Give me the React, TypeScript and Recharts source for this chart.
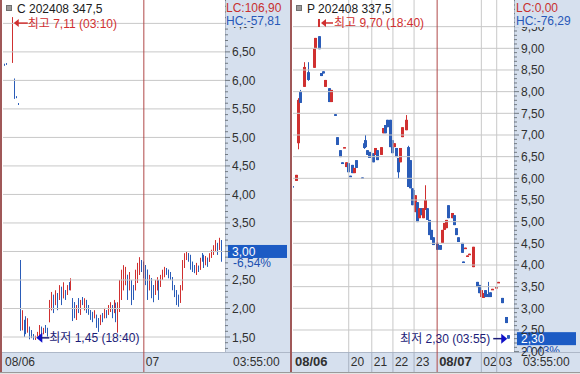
import React from 'react';
import { ComposedChart, Bar, XAxis, YAxis, ReferenceLine, ReferenceDot } from 'recharts';

const FONT = '"Liberation Sans", Arial, "Noto Sans CJK KR", sans-serif';
const RED = '#D03030';
const BLUE = '#2A5CB8';
const GRID = '#C8C8C8';
const DIV = '#B04848';
const AXBG = '#D6E0EE';
const NAVY = '#1C1C78';

// ---------- Left panel: C 202408 347,5 ----------
const leftT = [0, 1, 2, 5, 6, 7, 8, 9, 10, 11, 12, 13, 14, 15, 16, 17, 18, 19, 20, 21, 22, 23, 24, 25, 26, 27, 28, 29, 30, 31, 32, 33, 34, 35, 36, 37, 38, 39, 40, 41, 42, 43, 44, 45, 46, 47, 48, 49, 50, 51, 52, 53, 54, 55, 56, 57, 58, 59, 60, 61, 62, 63, 64, 65, 66, 67, 68, 69, 70, 71, 72, 73, 74, 75, 76, 77, 78, 79, 80, 81, 82, 83, 84, 85, 86, 87, 88, 89, 90, 91, 92, 93, 94, 95, 96, 97, 98, 99, 100, 101, 102, 103, 104, 105, 106, 107, 108, 109, 110, 111, 112];
const leftO = [6.06, 6.29, 6.30, 6.31, 6.03, 5.72, 5.60, 2.85, 1.62, 1.80, 1.86, 1.58, 1.68, 1.62, 1.55, 1.45, 1.50, 1.50, 1.68, 1.55, 1.71, 1.66, 1.76, 1.97, 2.24, 2.06, 2.27, 2.15, 2.38, 2.18, 2.32, 2.24, 2.46, 2.32, 2.18, 2.11, 1.80, 2.18, 1.89, 2.20, 1.97, 2.15, 2.06, 1.97, 1.94, 1.83, 1.89, 1.83, 1.71, 1.92, 1.83, 1.97, 1.89, 1.94, 2.06, 1.92, 2.10, 1.58, 1.94, 2.15, 2.32, 2.41, 2.59, 2.32, 2.50, 2.41, 2.32, 2.45, 2.59, 2.85, 2.82, 2.76, 2.68, 2.32, 2.53, 2.41, 2.24, 2.32, 2.50, 2.38, 2.50, 2.55, 2.71, 2.68, 2.64, 2.55, 2.41, 2.32, 2.24, 2.10, 2.32, 2.71, 2.85, 2.97, 2.94, 2.82, 2.76, 2.59, 2.75, 2.68, 2.97, 2.94, 2.76, 2.89, 2.82, 2.89, 2.94, 2.99, 3.15, 3.03, 3.20];
const leftH = [6.06, 6.29, 6.30, 7.11, 6.03, 5.72, 5.60, 2.85, 1.97, 1.80, 1.86, 1.83, 1.68, 1.62, 1.55, 1.52, 1.59, 1.71, 1.68, 1.66, 1.71, 1.66, 2.15, 2.29, 2.24, 2.32, 2.27, 2.41, 2.38, 2.46, 2.32, 2.41, 2.46, 2.53, 2.18, 2.11, 2.06, 2.18, 2.15, 2.20, 2.18, 2.15, 2.06, 1.97, 1.94, 1.97, 1.89, 1.83, 1.89, 1.92, 2.01, 1.97, 2.06, 2.11, 2.06, 2.15, 2.10, 2.11, 2.50, 2.68, 2.76, 2.73, 2.59, 2.64, 2.50, 2.41, 2.68, 2.80, 2.90, 2.85, 2.82, 2.76, 2.68, 2.59, 2.53, 2.41, 2.50, 2.55, 2.50, 2.59, 2.68, 2.73, 2.71, 2.68, 2.64, 2.55, 2.41, 2.32, 2.24, 2.41, 2.85, 2.97, 2.99, 2.97, 2.94, 2.82, 2.76, 2.80, 2.75, 2.89, 2.97, 2.94, 2.92, 2.89, 2.97, 3.03, 3.11, 3.20, 3.15, 3.24, 3.20];
const leftL = [6.01, 6.26, 6.28, 6.31, 5.68, 5.69, 5.57, 1.61, 1.62, 1.50, 1.55, 1.58, 1.46, 1.48, 1.45, 1.45, 1.50, 1.50, 1.55, 1.55, 1.57, 1.50, 1.76, 1.97, 1.92, 2.06, 1.97, 2.15, 2.06, 2.18, 2.15, 2.24, 2.32, 2.32, 1.78, 1.83, 1.80, 1.92, 1.89, 2.06, 1.97, 1.92, 1.89, 1.80, 1.76, 1.83, 1.66, 1.59, 1.71, 1.76, 1.83, 1.83, 1.89, 1.94, 1.83, 1.92, 1.76, 1.58, 1.94, 2.15, 2.32, 2.41, 2.15, 2.32, 2.06, 2.15, 2.32, 2.45, 2.59, 2.64, 2.53, 2.41, 2.15, 2.32, 2.18, 2.11, 2.24, 2.32, 2.15, 2.38, 2.50, 2.55, 2.59, 2.53, 2.50, 2.32, 2.20, 2.06, 2.03, 2.10, 2.32, 2.71, 2.85, 2.82, 2.68, 2.64, 2.62, 2.59, 2.64, 2.68, 2.82, 2.71, 2.76, 2.73, 2.82, 2.89, 2.94, 2.99, 2.94, 3.03, 2.82];
const leftC = [6.01, 6.26, 6.28, 7.05, 5.68, 5.69, 5.57, 1.62, 1.95, 1.52, 1.57, 1.80, 1.48, 1.50, 1.47, 1.52, 1.58, 1.68, 1.56, 1.65, 1.58, 1.52, 2.12, 2.25, 1.95, 2.30, 2.00, 2.38, 2.10, 2.42, 2.18, 2.40, 2.35, 2.50, 1.80, 1.85, 2.05, 1.95, 2.12, 2.08, 2.15, 1.95, 1.90, 1.82, 1.78, 1.95, 1.68, 1.60, 1.88, 1.78, 2.00, 1.85, 2.05, 2.10, 1.85, 2.12, 1.78, 2.08, 2.45, 2.65, 2.72, 2.70, 2.18, 2.60, 2.10, 2.18, 2.65, 2.78, 2.88, 2.66, 2.55, 2.45, 2.18, 2.55, 2.20, 2.15, 2.48, 2.52, 2.18, 2.58, 2.66, 2.70, 2.60, 2.55, 2.52, 2.35, 2.22, 2.08, 2.05, 2.40, 2.82, 2.95, 2.98, 2.84, 2.70, 2.66, 2.64, 2.78, 2.66, 2.86, 2.84, 2.74, 2.90, 2.75, 2.95, 3.01, 3.08, 3.17, 2.96, 3.20, 3.00];
const leftTickVals = [0, 72];
const leftTickLabels = ['08/06', '07'];
const leftMajor = [1.5, 2.0, 2.5, 3.0, 3.5, 4.0, 4.5, 5.0, 5.5, 6.0, 6.5, 7.0];

// ---------- Right panel: P 202408 337,5 ----------
const rightT = [0, 2, 3, 4, 6, 8, 11, 12, 14, 15, 16, 17, 19, 20, 22, 23, 25, 26, 27, 28, 29, 30, 31, 32, 33, 36, 37, 38, 39, 40, 42, 43, 44, 46, 47, 48, 49, 51, 52, 53, 54, 55, 56, 57, 59, 60, 61, 62, 63, 64, 65, 66, 67, 68, 69, 70, 71, 72, 73, 75, 77, 78, 79, 80, 81, 83, 84, 85, 86, 88, 89, 90, 91, 92, 94, 96, 97, 98, 99, 100, 102, 103, 104, 106, 107, 109, 111, 112];
const rightO = [5.82, 5.94, 6.81, 8.00, 8.11, 8.45, 8.55, 9.00, 9.28, 8.43, 8.47, 8.11, 8.08, 7.76, 7.48, 6.95, 6.65, 6.37, 6.70, 6.26, 6.35, 6.06, 6.31, 6.12, 6.42, 6.02, 6.81, 6.88, 6.65, 6.61, 6.58, 6.54, 6.65, 6.54, 7.04, 7.23, 7.35, 7.35, 6.88, 6.72, 6.70, 6.47, 6.37, 6.95, 7.11, 6.72, 6.42, 5.77, 5.73, 5.22, 5.45, 5.08, 5.31, 5.08, 5.27, 5.31, 5.04, 4.81, 4.64, 4.51, 4.46, 4.51, 4.81, 4.85, 5.38, 5.08, 5.15, 4.85, 4.64, 4.51, 4.08, 4.38, 4.20, 4.24, 3.95, 3.61, 3.54, 3.26, 3.24, 3.42, 3.33, 3.37, 3.43, 3.47, 3.59, 3.24, 2.80, 2.38];
const rightH = [5.82, 6.08, 7.85, 8.04, 8.68, 8.68, 9.00, 9.24, 9.28, 8.43, 8.47, 8.27, 8.08, 8.04, 7.48, 6.95, 6.65, 6.37, 6.72, 6.37, 6.35, 6.06, 6.31, 6.24, 6.42, 6.02, 6.88, 7.00, 6.65, 6.61, 6.58, 6.70, 6.65, 6.72, 7.16, 7.23, 7.35, 7.35, 6.88, 6.81, 6.70, 6.47, 6.70, 7.18, 7.46, 6.75, 6.42, 5.77, 5.73, 5.61, 5.45, 5.31, 5.31, 5.31, 5.84, 5.31, 5.04, 4.81, 4.64, 4.51, 4.46, 4.81, 4.97, 5.04, 5.38, 5.20, 5.15, 4.85, 4.64, 4.51, 4.08, 4.40, 4.22, 4.26, 4.42, 3.61, 3.54, 3.42, 3.35, 3.42, 3.61, 3.37, 3.45, 3.49, 3.61, 3.24, 2.80, 2.38];
const rightL = [5.80, 5.94, 6.67, 7.74, 8.11, 8.25, 8.55, 9.00, 8.98, 8.36, 8.42, 8.11, 7.76, 7.76, 7.44, 6.77, 6.49, 6.33, 6.70, 6.26, 6.14, 6.04, 6.12, 6.12, 6.24, 5.99, 6.68, 6.70, 6.54, 6.47, 6.37, 6.54, 6.42, 6.54, 7.04, 7.04, 7.18, 6.72, 6.58, 6.72, 6.49, 6.00, 6.37, 6.95, 7.11, 5.80, 5.77, 5.38, 5.45, 5.22, 4.99, 5.08, 5.15, 5.08, 5.27, 5.04, 4.69, 4.58, 4.46, 4.35, 4.35, 4.51, 4.81, 4.85, 5.08, 5.08, 4.92, 4.69, 4.53, 4.28, 4.05, 4.38, 4.20, 4.24, 3.95, 3.49, 3.35, 3.26, 3.24, 3.26, 3.26, 3.26, 3.43, 3.47, 3.59, 3.12, 2.66, 2.30];
const rightC = [5.80, 6.08, 7.81, 7.74, 8.57, 8.27, 9.00, 9.24, 8.98, 8.36, 8.42, 8.27, 7.76, 8.04, 7.44, 6.77, 6.49, 6.33, 6.72, 6.37, 6.14, 6.04, 6.12, 6.24, 6.24, 5.99, 6.70, 6.72, 6.54, 6.47, 6.37, 6.70, 6.42, 6.72, 7.16, 7.04, 7.18, 6.72, 6.58, 6.81, 6.49, 6.14, 6.70, 7.18, 7.35, 5.80, 5.77, 5.38, 5.45, 5.61, 4.99, 5.31, 5.15, 5.31, 5.50, 5.04, 4.69, 4.58, 4.46, 4.35, 4.35, 4.81, 4.97, 5.04, 5.08, 5.20, 4.92, 4.69, 4.53, 4.28, 4.05, 4.40, 4.22, 4.26, 4.42, 3.49, 3.35, 3.42, 3.35, 3.26, 3.26, 3.26, 3.45, 3.49, 3.61, 3.12, 2.66, 2.30];
const rightTickVals = [0, 29, 41, 52, 63, 75, 98, 106];
const rightTickLabels = ['08/06', '20', '21', '22', '23', '08/07', '02', '03'];
const rightBold = ['08/06', '08/07'];
const rightMajor = [2.5, 3.0, 3.5, 4.0, 4.5, 5.0, 5.5, 6.0, 6.5, 7.0, 7.5, 8.0, 8.5, 9.0, 9.5];

const PLOT_H = 352;
const AXIS_H = 20;
const YAXIS_W = 64;

type Row = { t: number; o: number; h: number; l: number; c: number; range: [number, number] };
function rows(t: number[], o: number[], h: number[], l: number[], c: number[]): Row[] {
  return t.map((tt, i) => ({ t: tt, o: o[i], h: h[i], l: l[i], c: c[i], range: [l[i], h[i]] }));
}
const leftData = rows(leftT, leftO, leftH, leftL, leftC);
const rightData = rows(rightT, rightO, rightH, rightL, rightC);

function minorTicks(lo: number, hi: number): number[] {
  const out: number[] = [];
  for (let k = Math.ceil(lo * 10); k <= Math.floor(hi * 10); k++) out.push(k / 10);
  return out;
}
const fmt = (v: number) => v.toFixed(2).replace('.', ',');

function makeCandle(bodyW: number) {
  return (props: any) => {
    const { x, y, width, height, payload } = props;
    if (!payload || x == null || y == null) return <g />;
    const top = Math.min(y, y + height);
    const bot = Math.max(y, y + height);
    const { o, h, l, c } = payload as Row;
    const span = h - l;
    const py = (v: number) => (span > 0 ? top + ((h - v) / span) * (bot - top) : top);
    const cx = x + width / 2;
    const col = c >= o ? RED : BLUE;
    const bt = Math.min(py(o), py(c));
    const bb = Math.max(py(o), py(c));
    return (
      <g>
        <rect x={Math.round(cx - 0.5)} y={top} width={1} height={Math.max(1, bot - top)} fill={col} />
        <rect x={Math.round(cx - bodyW / 2)} y={bt} width={bodyW} height={Math.max(1.5, bb - bt)} fill={col} />
      </g>
    );
  };
}

function makeYTick(hideLabel: number[]) {
  return (props: any) => {
    const { x, y, payload } = props;
    const v = payload.value as number;
    const major = Math.abs(v * 2 - Math.round(v * 2)) < 1e-6;
    const hidden = hideLabel.some((hv) => Math.abs(hv - v) < 1e-6);
    return (
      <g>
        <line x1={x} x2={x + (major ? 5 : 3)} y1={y} y2={y} stroke="#707880" strokeWidth={1} />
        {major && !hidden && (
          <text x={x + 7} y={y + 4.5} fontSize={12} fill="#303030" fontFamily={FONT}>
            {fmt(v)}
          </text>
        )}
      </g>
    );
  };
}

function makeXTick(vals: number[], labels: string[], bold: string[], divider: number) {
  return (props: any) => {
    const { x, y, payload } = props;
    const i = vals.indexOf(payload.value);
    const label = i >= 0 ? labels[i] : '';
    const isB = bold.indexOf(label) >= 0;
    const isDiv = payload.value === divider;
    return (
      <g>
        {payload.value !== 0 && (
          <line x1={x} x2={x} y1={y} y2={y + AXIS_H} stroke={isDiv ? DIV : '#A8B2C2'} strokeWidth={1} />
        )}
        <text x={x + 2} y={y + 14} fontSize={isB ? 13 : 12} fontWeight={isB ? 'bold' : 'normal'} fill="#303030" fontFamily={FONT}>
          {label}
        </text>
      </g>
    );
  };
}

const PriceBox = (txt: string, pct: string, clipId: string) => (p: any) => {
  const { cx, cy } = p;
  return (
    <g>
      <defs>
        <clipPath id={clipId}>
          <rect x={0} y={0} width={600} height={PLOT_H} />
        </clipPath>
      </defs>
      <rect x={cx + 3} y={cy - 6.5} width={59} height={13} fill="#1C5BC4" />
      <text x={cx + 7} y={cy + 4.5} fontSize={12} fill="#fff" fontFamily={FONT}>{txt}</text>
      <text x={cx + 8} y={cy + 16} fontSize={12} fill="#2050B0" fontFamily={FONT} clipPath={`url(#${clipId})`}>{pct}</text>
    </g>
  );
};

const HighLeft = (p: any) => {
  const { cx, cy } = p;
  const ay = cy + 6;
  return (
    <g>
      <polygon points={`${cx + 1},${ay} ${cx + 6},${ay - 4} ${cx + 6},${ay + 4}`} fill={RED} />
      <line x1={cx + 5} x2={cx + 15} y1={ay} y2={ay} stroke={RED} strokeWidth={1.5} />
      <text x={cx + 15} y={ay + 4.5} fontSize={12} fill={RED} fontFamily={FONT}>최고 7,11 (03:10)</text>
    </g>
  );
};

const LowLeft = (p: any) => {
  const { cx, cy } = p;
  const ay = cy - 2;
  return (
    <g>
      <polygon points={`${cx + 2},${ay} ${cx + 8},${ay - 5} ${cx + 8},${ay + 5}`} fill="#1010C8" />
      <line x1={cx + 7} x2={cx + 15} y1={ay} y2={ay} stroke={NAVY} strokeWidth={1.5} />
      <text x={cx + 15} y={ay + 4.5} fontSize={12} fill={NAVY} fontFamily={FONT}>최저 1,45 (18:40)</text>
    </g>
  );
};

const HighRight = (p: any) => {
  const { cx, cy } = p;
  const ay = cy + 5;
  return (
    <g>
      <rect x={cx} y={ay - 4} width={2} height={8} fill={RED} />
      <polygon points={`${cx + 3},${ay} ${cx + 8},${ay - 4} ${cx + 8},${ay + 4}`} fill={RED} />
      <line x1={cx + 7} x2={cx + 15} y1={ay} y2={ay} stroke={RED} strokeWidth={1.5} />
      <text x={cx + 16} y={ay + 4.5} fontSize={12} fill={RED} fontFamily={FONT}>최고 9,70 (18:40)</text>
    </g>
  );
};

const LowRight = (p: any) => {
  const { cx, cy } = p;
  const ay = cy;
  return (
    <g>
      <line x1={cx - 15} x2={cx - 5} y1={ay} y2={ay} stroke={NAVY} strokeWidth={1.5} />
      <polygon points={`${cx - 1},${ay} ${cx - 7},${ay - 5} ${cx - 7},${ay + 5}`} fill="#1010C8" />
      <text x={cx - 18} y={ay + 4.5} fontSize={12} fill={NAVY} fontFamily={FONT} textAnchor="end">최저 2,30 (03:55)</text>
    </g>
  );
};

type PanelProps = {
  data: Row[];
  width: number;
  xMax: number;
  yDomain: [number, number];
  major: number[];
  tickVals: number[];
  tickLabels: string[];
  bold: string[];
  divider: number;
  vGrid: number[];
  bodyW: number;
  hideLabel: number[];
  last: { v: number; txt: string; pct: string; id: string };
  children?: React.ReactNode;
};

function Panel(pp: PanelProps) {
  return (
    <ComposedChart width={pp.width} height={PLOT_H + AXIS_H} data={pp.data} margin={{ top: 0, right: 0, bottom: 0, left: 0 }}>
      <XAxis
        dataKey="t"
        type="number"
        domain={[0, pp.xMax]}
        allowDataOverflow
        ticks={pp.tickVals}
        interval={0}
        height={AXIS_H}
        axisLine={false}
        tickLine={false}
        tickSize={0}
        tickMargin={0}
        tick={makeXTick(pp.tickVals, pp.tickLabels, pp.bold, pp.divider)}
      />
      <YAxis
        orientation="right"
        type="number"
        domain={pp.yDomain}
        allowDataOverflow
        ticks={minorTicks(pp.yDomain[0], pp.yDomain[1])}
        interval={0}
        width={YAXIS_W}
        axisLine={false}
        tickLine={false}
        tickSize={0}
        tickMargin={0}
        tick={makeYTick(pp.hideLabel)}
      />
      {pp.major.map((v) => (
        <ReferenceLine key={'h' + v} y={v} stroke={GRID} strokeWidth={1} />
      ))}
      {pp.vGrid.map((v) => (
        <ReferenceLine key={'v' + v} x={v} stroke={GRID} strokeWidth={1} />
      ))}
      <ReferenceLine x={pp.divider} stroke={DIV} strokeWidth={1} />
      <Bar dataKey="range" barSize={pp.bodyW} shape={makeCandle(pp.bodyW)} isAnimationActive={false} />
      <ReferenceDot x={pp.xMax} y={pp.last.v} r={0} ifOverflow="visible" shape={PriceBox(pp.last.txt, pp.last.pct, pp.last.id)} />
      {pp.children}
    </ComposedChart>
  );
}

const abs = (l: number, t: number, w: number, h: number, extra: React.CSSProperties = {}): React.CSSProperties => ({
  position: 'absolute', left: l, top: t, width: w, height: h, ...extra,
});

export default function App() {
  return (
    <div style={{ position: 'absolute', left: 0, top: 0, width: 580, height: 374, background: '#fff', overflow: 'hidden', fontFamily: FONT }}>
      {/* axis backgrounds */}
      <div style={abs(225, 0, 65, 374, { background: AXBG, borderLeft: '1px solid #AEB8C8' })} />
      <div style={abs(0, 352, 290, 22, { background: AXBG, borderTop: '1px solid #AEB8C8' })} />
      <div style={abs(514, 0, 66, 374, { background: AXBG, borderLeft: '1px solid #AEB8C8' })} />
      <div style={abs(290, 352, 290, 22, { background: AXBG, borderTop: '1px solid #AEB8C8' })} />
      {/* scrollbar strip */}
      <div style={abs(0, 372, 580, 2, { background: '#E4E4E4', borderTop: '1px solid #9A9A9A' })} />
      {/* panel borders */}
      <div style={abs(0, 0, 2, 372, { background: '#A05858' })} />
      <div style={abs(290, 0, 2, 372, { background: '#A05858' })} />

      <div style={abs(3, 0, 286, 372)}>
        <Panel
          data={leftData}
          width={286}
          xMax={113.5}
          yDomain={[1.237, 7.41]}
          major={leftMajor}
          tickVals={leftTickVals}
          tickLabels={leftTickLabels}
          bold={[]}
          divider={72}
          vGrid={[]}
          bodyW={1}
          hideLabel={[3.0]}
          last={{ v: 3.0, txt: '3,00', pct: '-6,54%', id: 'clipL' }}
        >
          <ReferenceDot x={5} y={7.11} r={0} ifOverflow="visible" shape={HighLeft} />
          <ReferenceDot x={16} y={1.45} r={0} ifOverflow="visible" shape={LowLeft} />
        </Panel>
      </div>

      <div style={abs(293, 0, 285, 372)}>
        <Panel
          data={rightData}
          width={285}
          xMax={115}
          yDomain={[1.992, 10.115]}
          major={rightMajor}
          tickVals={rightTickVals}
          tickLabels={rightTickLabels}
          bold={rightBold}
          divider={75}
          vGrid={[29, 41, 52, 63, 98, 106]}
          bodyW={3}
          hideLabel={[10.0]}
          last={{ v: 2.3, txt: '2,30', pct: '-0,43%', id: 'clipR' }}
        >
          <ReferenceDot x={13} y={9.7} r={0} ifOverflow="visible" shape={HighRight} />
          <ReferenceDot x={112} y={2.3} r={0} ifOverflow="visible" shape={LowRight} />
        </Panel>
      </div>

      {/* titles */}
      <div style={abs(6, 5, 4, 4, { background: '#9A9A9A', border: '1px solid #707070' })} />
      <div style={{ position: 'absolute', left: 17, top: 2, fontSize: 12, color: '#202020', whiteSpace: 'nowrap', lineHeight: '14px' }}>C 202408 347,5</div>
      <div style={abs(296, 5, 4, 4, { background: '#9A9A9A', border: '1px solid #707070' })} />
      <div style={{ position: 'absolute', left: 307, top: 2, fontSize: 12, color: '#202020', whiteSpace: 'nowrap', lineHeight: '14px' }}>P 202408 337,5</div>

      {/* LC / HC */}
      <div style={abs(226, 0, 63, 27, { background: AXBG })} />
      <div style={{ position: 'absolute', left: 226, top: 2, fontSize: 12, color: '#C83030', lineHeight: '13px', whiteSpace: 'nowrap' }}>LC:106,90</div>
      <div style={{ position: 'absolute', left: 226, top: 15, fontSize: 12, color: '#2858B8', lineHeight: '13px', whiteSpace: 'nowrap' }}>HC:-57,81</div>
      <div style={abs(515, 0, 65, 27, { background: AXBG })} />
      <div style={{ position: 'absolute', left: 516, top: 2, fontSize: 12, color: '#C83030', lineHeight: '13px', whiteSpace: 'nowrap' }}>LC:0,00</div>
      <div style={{ position: 'absolute', left: 516, top: 15, fontSize: 12, color: '#2858B8', lineHeight: '13px', whiteSpace: 'nowrap' }}>HC:-76,29</div>

      {/* time in axis corner */}
      <div style={{ position: 'absolute', left: 233, top: 355, fontSize: 12, color: '#303030', lineHeight: '14px' }}>03:55:00</div>
      <div style={{ position: 'absolute', left: 523, top: 355, fontSize: 12, color: '#303030', lineHeight: '14px' }}>03:55:00</div>
    </div>
  );
}
